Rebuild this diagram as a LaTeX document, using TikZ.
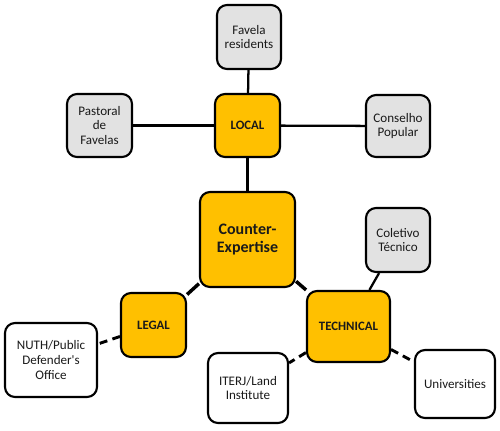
\documentclass[tikz,border=0pt]{standalone}
\usepackage{fontspec}
\setmainfont{Carlito}
\definecolor{gold}{HTML}{FFC000}
\definecolor{lgray}{HTML}{E2E2E2}
\definecolor{txt}{HTML}{1A1A1A}
\begin{document}
\begin{tikzpicture}[x=0.75pt,y=-0.75pt,
  box/.style={draw=black,line width=1.6pt,rounded corners=7.5pt,align=center,inner sep=1pt,text=txt,font=\fontsize{9.8}{11}\selectfont},
  hub/.style={box,fill=gold,font=\bfseries\fontsize{9.6}{11}\selectfont},
  actor/.style={box,fill=lgray},
  ext/.style={box,fill=white},
  link/.style={line width=1.7pt},
  strong/.style={line width=2.6pt},
  weak/.style={line width=2.2pt,dash pattern=on 6pt off 4pt}]
\useasboundingbox (0,0) rectangle (500,430);
\node[hub,minimum width=95*0.75pt,minimum height=95*0.75pt,font=\bfseries\fontsize{12}{13.5}\selectfont] (ce) at (247.5,239.5) {Counter-\\Expertise};
\node[hub,minimum width=65*0.75pt,minimum height=63*0.75pt] (local) at (247.5,125.5) {LOCAL};
\node[hub,minimum width=65*0.75pt,minimum height=64*0.75pt] (legal) at (153.5,325) {LEGAL};
\node[hub,minimum width=83*0.75pt,minimum height=71*0.75pt] (tech) at (348.5,326.5) {TECHNICAL};
\node[actor,minimum width=64*0.75pt,minimum height=64*0.75pt] (fav) at (249,37) {Favela\\residents};
\node[actor,minimum width=65*0.75pt,minimum height=63*0.75pt] (past) at (99.5,125.5) {Pastoral\\de\\Favelas};
\node[actor,minimum width=64*0.75pt,minimum height=62*0.75pt] (cons) at (398,126) {Conselho\\Popular};
\node[actor,minimum width=64*0.75pt,minimum height=64*0.75pt] (colet) at (398,240) {Coletivo\\Técnico};
\node[ext,minimum width=92*0.75pt,minimum height=74*0.75pt] (nuth) at (51,360) {NUTH/Public\\Defender\textquotesingle s\\Office};
\node[ext,minimum width=80*0.75pt,minimum height=70*0.75pt] (iterj) at (248,388) {ITERJ/Land\\Institute};
\node[ext,minimum width=80*0.75pt,minimum height=68*0.75pt] (univ) at (455,384) {Universities};
\draw[link] (local) -- (fav);
\draw[link] (local) -- (past);
\draw[link] (local) -- (cons);
\draw[strong] (local) -- (ce);
\draw[strong] (ce) -- (legal);
\draw[strong] (ce) -- (tech);
\draw[link] (colet) -- (tech);
\draw[weak] (legal) -- (nuth);
\draw[weak] (tech) -- (iterj);
\draw[weak] (tech) -- (univ);
\end{tikzpicture}
\end{document}
